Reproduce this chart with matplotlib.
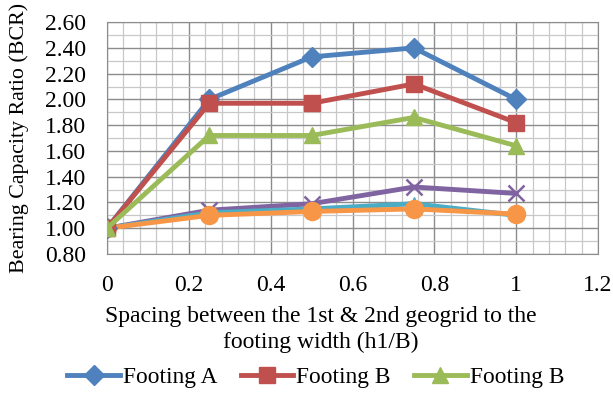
import matplotlib.pyplot as plt
import numpy as np
from matplotlib.ticker import MultipleLocator, FormatStrFormatter

plt.rcParams['font.family'] = ['Liberation Serif', 'DejaVu Serif']

spacing = [0, 0.25, 0.5, 0.75, 1.0]
footing_a = [1.00, 2.00, 2.33, 2.40, 2.00]
footing_b = [1.00, 1.97, 1.97, 2.12, 1.82]
footing_b2 = [1.00, 1.72, 1.72, 1.86, 1.64]
series_purple = [1.00, 1.14, 1.19, 1.32, 1.27]
series_cyan = [1.00, 1.12, 1.15, 1.19, 1.10]
series_orange = [1.00, 1.10, 1.13, 1.15, 1.11]

fig = plt.figure(figsize=(6.13, 3.95), dpi=100)
ax = fig.add_axes([0.1746, 0.3570, 0.8009, 0.5870])

# lines not shown in the legend
ax.plot(spacing, series_purple, color='#8064A2', lw=3.5, marker='x', ms=12, mew=1.8, zorder=3)
ax.plot(spacing, series_cyan, color='#4BACC6', lw=3.5, marker='*', ms=10, zorder=3)
ax.plot(spacing, series_orange, color='#F79646', lw=3.5, marker='o', ms=13, zorder=4)

l1, = ax.plot(spacing, footing_a, color='#4F81BD', lw=3.5, marker='D', ms=10, zorder=5, label='Footing A')
l2, = ax.plot(spacing, footing_b, color='#C0504D', lw=3.5, marker='s', ms=12, zorder=5, label='Footing B')
l3, = ax.plot(spacing, footing_b2, color='#9BBB59', lw=3.5, marker='^', ms=12, zorder=5, label='Footing B')

ax.set_xlim(0, 1.2)
ax.set_ylim(0.8, 2.6)
ax.xaxis.set_minor_locator(MultipleLocator(0.04))
ax.yaxis.set_major_locator(MultipleLocator(0.2))
ax.yaxis.set_minor_locator(MultipleLocator(0.1))
ax.yaxis.set_major_formatter(FormatStrFormatter('%.2f'))
ax.set_xticks([0, 0.2, 0.4, 0.6, 0.8, 1.0, 1.2])
ax.set_xticklabels(['0', '0.2', '0.4', '0.6', '0.8', '1', '1.2'])

ax.grid(which='major', color='#8C8C8C', lw=1.0)
ax.grid(which='minor', color='#C8C8C8', lw=0.9)
ax.set_axisbelow(True)
ax.tick_params(which='both', length=0, labelsize=17)
ax.tick_params(axis='x', pad=15)
ax.tick_params(axis='y', pad=15)
for s in ax.spines.values():
    s.set_color('#8C8C8C')

fig.text(0.524, 1 - 306 / 395, 'Spacing between the 1st & 2nd geogrid to the\nfooting width (h1/B)',
         ha='center', va='top', fontsize=17, linespacing=1.3)
fig.text(19 / 613, 1 - 138 / 395, 'Bearing Capacity Ratio (BCR)', rotation=90,
         ha='center', va='center', fontsize=15.8)

fig.legend(handles=[l1, l2, l3], loc='center', bbox_to_anchor=(0.515, 0.045), ncol=3,
           frameon=False, fontsize=16.8, handlelength=2.25, handletextpad=0.13,
           columnspacing=1.0, borderpad=0)

fig.savefig('out.png', dpi=100)
